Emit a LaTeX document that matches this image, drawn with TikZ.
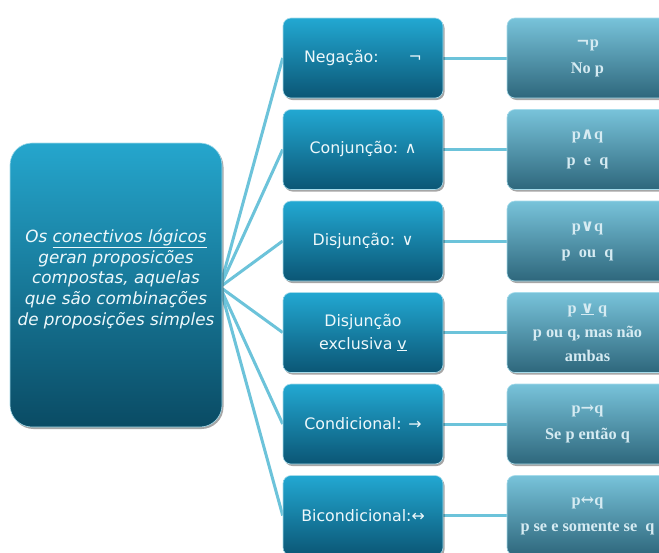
\documentclass[tikz,border=0pt]{standalone}
\usepackage{fontspec}
\setsansfont{DejaVu Sans}
\setmainfont{Liberation Serif}
\newfontfamily\symserif{DejaVu Serif}
\newfontfamily\symsans{DejaVu Sans}
\usetikzlibrary{shadows,backgrounds}
\definecolor{linec}{HTML}{6CC3DA}
\definecolor{midtop}{HTML}{22A8D2}
\definecolor{midmid}{HTML}{1587AF}
\definecolor{midbot}{HTML}{0B5675}
\definecolor{lefttop}{HTML}{25A6CD}
\definecolor{leftmid}{HTML}{137FA4}
\definecolor{leftbot}{HTML}{0A4B64}
\definecolor{rtop}{HTML}{78C3DA}
\definecolor{rmid}{HTML}{4F9AB3}
\definecolor{rbot}{HTML}{2E677C}
\definecolor{edgec}{HTML}{A6DCEB}
\definecolor{txtw}{HTML}{EEF8FB}
\definecolor{txtr}{HTML}{D6EBF2}
\begin{document}
\begin{tikzpicture}[x=1pt,y=-1pt,
  conn/.style={draw=linec, line width=3pt},
  boxbase/.style={draw=edgec, line width=0.6pt, align=center, inner sep=0pt,
    drop shadow={shadow xshift=1.5pt, shadow yshift=-2pt, fill=black, opacity=0.35}},
  midbox/.style={boxbase, rounded corners=8pt, minimum width=160pt, minimum height=80pt,
    top color=midtop, middle color=midmid, bottom color=midbot, text=txtw,
    font=\sffamily\fontsize{15.8}{23}\selectfont},
  rbox/.style={boxbase, rounded corners=8pt, minimum width=161pt, minimum height=80pt,
    top color=rtop, middle color=rmid, bottom color=rbot, text=txtr,
    font=\bfseries\fontsize{16.3}{26}\selectfont},
  leftbox/.style={boxbase, rounded corners=22pt, minimum width=212pt, minimum height=284pt,
    top color=lefttop, middle color=leftmid, bottom color=leftbot},
  lefttext/.style={align=center, inner sep=0pt, text=txtw,
    font=\sffamily\itshape\fontsize{16.8}{20.8}\selectfont}
]
\clip (0,0) rectangle (659,552);

\node[leftbox] (L) at (116,285) {};
\node[lefttext] (Lt) at (116,279) {Os \underline{conectivos lógicos}\\geran proposicões\\compostas, aquelas\\que são combinações\\de proposições simples};
\coordinate (hub) at (220,287);

\node[midbox] (m1) at (363,58) {Negação:\hspace{30pt}{\symsans ¬}};
\node[midbox] (m2) at (363,149.5) {Conjunção: {\symsans ∧}};
\node[midbox] (m3) at (363,241) {Disjunção: {\symsans ∨}};
\node[midbox] (m4) at (363,332.5) {Disjunção\\exclusiva \underline{v}};
\node[midbox] (m5) at (363,424) {Condicional: {\symsans →}};
\node[midbox] (m6) at (363,515.5) {Bicondicional:{\symsans ↔}};

\node[rbox] (r1) at (587.5,58) {{\symserif ¬}p\\No p};
\node[rbox] (r2) at (587.5,149.5) {p{\symserif ∧}q\\p\ \ e\ \ q};
\node[rbox] (r3) at (587.5,241) {p{\symserif ∨}q\\p\ \ ou\ \ q};
\node[rbox, font=\bfseries\fontsize{16.3}{24}\selectfont] (r4) at (587.5,332.5) {p \underline{\symserif ∨} q\\p ou q, mas não\\ambas};
\node[rbox] (r5) at (587.5,424) {p{\symserif →}q\\Se p então q};
\node[rbox] (r6) at (587.5,515.5) {p{\symserif ↔}q\\p se e somente se\ \ q};

\begin{pgfonlayer}{background}
\fill[white] (0,0) rectangle (659,552);
\foreach \i in {1,...,6}{
  \draw[conn] (hub) -- (m\i.west);
  \draw[conn] (m\i.east) -- (r\i.west);
}
\end{pgfonlayer}
\end{tikzpicture}
\end{document}
